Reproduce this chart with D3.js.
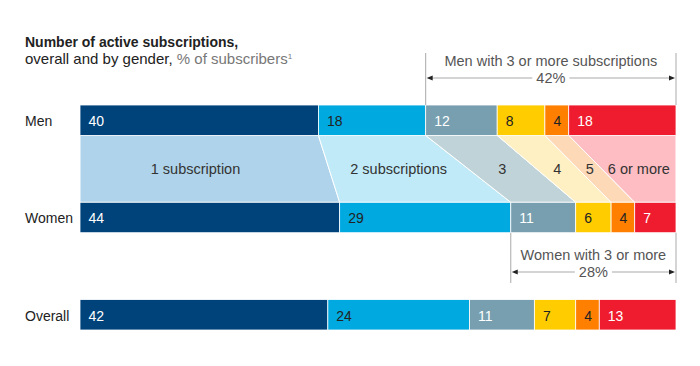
<!DOCTYPE html>
<html>
<head>
<meta charset="utf-8">
<script src="https://cdn.jsdelivr.net/npm/d3@7"></script>
<style>
  body { margin: 0; background: #fff; }
  svg { font-family: "Liberation Sans", Arial, Helvetica, sans-serif; }
</style>
</head>
<body>
<script>
// data
var groups = ["Men", "Women", "Overall"];
var categories = ["1 subscription", "2 subscriptions", "3", "4", "5", "6 or more"];
var men = [40, 18, 12, 8, 4, 18];
var women = [44, 29, 11, 6, 4, 7];
var overall = [42, 24, 11, 7, 4, 13];
var menThreePlus = 42;
var womenThreePlus = 28;

var rows = [men, women, overall];

var dark = ["#00427a", "#00a9e0", "#789fb0", "#ffcc00", "#ff8000", "#ee1c2e"];
var light = ["#afd3ea", "#c0eaf8", "#c0d3d9", "#fef0c3", "#fed9b8", "#fdbdc2"];
var labelColor = ["#fff", "#222", "#fff", "#222", "#222", "#fff"];

var svg = d3.select("body").append("svg")
            .attr("width", 700)
            .attr("height", 366);

var y = d3.scaleBand()
          .domain(groups)
          .range([105, 330])
          .paddingInner(67 / 97.5)
          .paddingOuter(0);

// one x scale per row, since rows don't add up to exactly 100
function xFor(vals) {
  return d3.scaleLinear().domain([0, d3.sum(vals)]).range([80, 676]);
}

function stackRow(vals) {
  var cum = 0;
  return vals.map(function(v, i) {
    var s = {i: i, v: v, x0: cum, x1: cum + v};
    cum += v;
    return s;
  });
}

// title
var title = svg.append("text").attr("x", 25).attr("y", 47)
   .style("font-size", "14px").style("fill", "#222");
title.append("tspan").style("font-weight", "bold").text("Number of active subscriptions,");
var t2 = svg.append("text").attr("x", 25).attr("y", 64)
   .style("font-size", "15px").style("fill", "#222");
t2.append("tspan").text("overall and by gender, ");
t2.append("tspan").style("fill", "#777").text("% of subscribers");
t2.append("tspan").style("fill", "#777").style("font-size", "8px").attr("dy", -5).text("1");

// connector between men and women
var xm = xFor(men), xw = xFor(women);
var sm = stackRow(men), sw = stackRow(women);
var yTop = y("Men") + y.bandwidth(), yBot = y("Women");

var conn = svg.append("g");
conn.selectAll("path")
    .data(d3.range(categories.length))
    .enter()
    .append("path")
    .attr("d", function(i) {
      return "M" + xm(sm[i].x0) + "," + yTop +
             "L" + xm(sm[i].x1) + "," + yTop +
             "L" + xw(sw[i].x1) + "," + yBot +
             "L" + xw(sw[i].x0) + "," + yBot + "Z";
    })
    .style("fill", function(i) { return light[i]; })
    .style("stroke", "#fff")
    .style("stroke-width", 1);

conn.selectAll("text")
    .data(d3.range(categories.length))
    .enter()
    .append("text")
    .attr("x", function(i) {
      var a = (xm(sm[i].x0) + xw(sw[i].x0)) / 2;
      var b = (xm(sm[i].x1) + xw(sw[i].x1)) / 2;
      // first label sits a little left of centre in the original
      return (a + b) / 2 - (i === 0 ? 9 : 0);
    })
    .attr("y", (yTop + yBot) / 2)
    .attr("dy", "0.35em")
    .attr("text-anchor", "middle")
    .style("font-size", "14.5px")
    .style("fill", "#333")
    .text(function(i) { return categories[i]; });

// bars
rows.forEach(function(vals, r) {
  var x = xFor(vals);
  var g = svg.append("g");
  var segs = stackRow(vals);

  g.selectAll("rect")
   .data(segs)
   .enter()
   .append("rect")
   .attr("x", function(d) { return x(d.x0); })
   .attr("y", y(groups[r]))
   .attr("width", function(d) { return x(d.x1) - x(d.x0); })
   .attr("height", y.bandwidth())
   .style("fill", function(d) { return dark[d.i]; })
   .style("stroke", "#fff")
   .style("stroke-width", 0.8);

  g.selectAll("text")
   .data(segs)
   .enter()
   .append("text")
   .attr("x", function(d) { return x(d.x0) + 8.5; })
   .attr("y", y(groups[r]) + y.bandwidth() / 2 + 1)
   .attr("dy", "0.35em")
   .style("font-size", "14px")
   .style("fill", function(d) { return labelColor[d.i]; })
   .text(function(d) { return d.v; });

  svg.append("text")
     .attr("x", 25)
     .attr("y", y(groups[r]) + y.bandwidth() / 2 + 1)
     .attr("dy", "0.35em")
     .style("font-size", "14px")
     .style("fill", "#222")
     .text(groups[r]);
});

// brackets for "3 or more"
function bracket(x0, x1, yLine0, yLine1, textY, arrowY, line1, pct) {
  var g = svg.append("g");
  [x0, x1].forEach(function(xx) {
    g.append("line")
     .attr("x1", xx).attr("x2", xx)
     .attr("y1", yLine0).attr("y2", yLine1)
     .style("stroke", "#aaa").style("stroke-width", 1);
  });
  var cx = (x0 + x1) / 2;
  g.append("text")
   .attr("x", cx).attr("y", textY)
   .attr("text-anchor", "middle")
   .style("font-size", "14.5px").style("fill", "#555")
   .text(line1);
  var pt = g.append("text")
   .attr("x", cx).attr("y", arrowY)
   .attr("dy", "0.35em")
   .attr("text-anchor", "middle")
   .style("font-size", "14.5px").style("fill", "#555")
   .text(pct + "%");
  var half = pt.node().getComputedTextLength() / 2 + 4;
  g.append("line")
   .attr("x1", x0 + 5).attr("x2", cx - half)
   .attr("y1", arrowY).attr("y2", arrowY)
   .style("stroke", "#aaa").style("stroke-width", 1.2);
  g.append("line")
   .attr("x1", cx + half).attr("x2", x1 - 5)
   .attr("y1", arrowY).attr("y2", arrowY)
   .style("stroke", "#aaa").style("stroke-width", 1.2);
  g.append("path")
   .attr("d", "M" + (x0 + 1) + "," + arrowY + "l6,-2.5v5z")
   .style("fill", "#222");
  g.append("path")
   .attr("d", "M" + (x1 - 1) + "," + arrowY + "l-6,-2.5v5z")
   .style("fill", "#222");
}

bracket(xm(sm[2].x0), xm(sm[5].x1), 53, y("Men"), 66, 78,
        "Men with 3 or more subscriptions", menThreePlus);
bracket(xw(sw[2].x0), xw(sw[5].x1), y("Women") + y.bandwidth(), 283, 260, 272,
        "Women with 3 or more", womenThreePlus);
</script>
</body>
</html>
